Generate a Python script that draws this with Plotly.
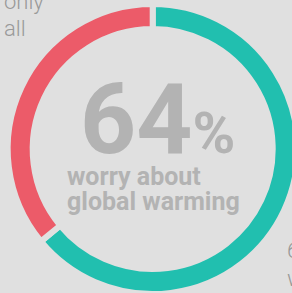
import plotly.graph_objects as go

labels = ["worry about global warming", "do not worry"]
values = [64, 36]
colors = ["#21BFAF", "#EC5B69"]

big_number = "64"
big_unit = "%"
caption_lines = ["worry about", "global warming"]
corner_tl = ["only", "all"]
corner_br = ["6", "w"]

BG = "#E0E0E0"
W, H = 300, 300

def py(bottom_px):
    return 1 - bottom_px / H

fig = go.Figure(go.Pie(
    labels=labels,
    values=values,
    sort=False,
    direction="clockwise",
    rotation=0,
    hole=120 / 145,
    marker=dict(colors=colors, line=dict(color=BG, width=6)),
    textinfo="none",
    hoverinfo="none",
    showlegend=False,
    domain=dict(x=[7.7 / W, 297.7 / W], y=[6 / H, 296 / H]),
))

fig.add_annotation(
    xref="paper", yref="paper", x=158 / W, y=py(178.5),
    xanchor="center", yanchor="bottom", showarrow=False,
    text=big_number + "<span style='font-size:58px'>" + big_unit + "</span>",
    font=dict(family="Roboto", size=98, color="#B3B3B3", weight="bold"),
)
for i, line in enumerate(caption_lines):
    fig.add_annotation(
        xref="paper", yref="paper", x=65 / W, y=py(193 + 25 * i),
        xanchor="left", yanchor="bottom", showarrow=False, align="left",
        text=line,
        font=dict(family="Roboto", size=25, color="#B3B3B3", weight="bold"),
    )
for i, line in enumerate(corner_tl):
    fig.add_annotation(
        xref="paper", yref="paper", x=2 / W, y=py(15.7 + 27 * i),
        xanchor="left", yanchor="bottom", showarrow=False, align="left",
        text=line,
        font=dict(family="Roboto", size=22, color="#999999", weight=300),
    )
for i, line in enumerate(corner_br):
    fig.add_annotation(
        xref="paper", yref="paper", x=285 / W, y=py(264.7 + 28 * i),
        xanchor="left", yanchor="bottom", showarrow=False, align="left",
        text=line,
        font=dict(family="Roboto", size=22, color="#999999", weight=300),
    )

fig.update_layout(
    width=W, height=H,
    margin=dict(l=0, r=0, t=0, b=0),
    paper_bgcolor=BG, plot_bgcolor=BG,
)
fig.write_html(
    "out.html",
    config={"displayModeBar": False},
    post_script="document.body.style.margin='0';document.body.style.overflow='hidden';document.body.style.background='#E0E0E0';",
)
